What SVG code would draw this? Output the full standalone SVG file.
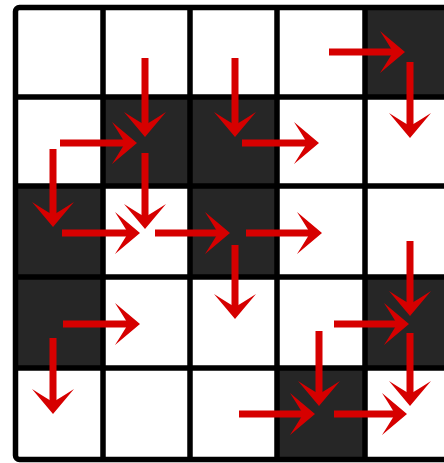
<svg xmlns="http://www.w3.org/2000/svg" xmlns:xlink="http://www.w3.org/1999/xlink" width="444" height="463" viewBox="0 0 444 463">
<style>
.w{fill:#ffffff}
.d{fill:#262626}
.grid{stroke:#000;stroke-width:5.5;fill:none}
.shaft{stroke:#d60000;stroke-width:7;fill:none}
.head{fill:#d60000}
</style>
<defs>
<path id="ah" d="M0,0 L-25,-21 Q-16,-7 -12,0 Q-16,7 -25,21 Z"/>
</defs>
<rect x="0" y="0" width="444" height="463" fill="#fff"/>
<g id="cells">
<g id="r0c0"><rect class="w" x="15" y="7" width="88" height="90"/></g>
<g id="r0c1"><rect class="w" x="103" y="7" width="87" height="90"/></g>
<g id="r0c2"><rect class="w" x="190" y="7" width="87" height="90"/></g>
<g id="r0c3"><rect class="w" x="277" y="7" width="88" height="90"/></g>
<g id="r0c4"><rect class="d" x="365" y="7" width="90" height="90"/></g>
<g id="r1c0"><rect class="w" x="15" y="97" width="88" height="89"/></g>
<g id="r1c1"><rect class="d" x="103" y="97" width="87" height="89"/></g>
<g id="r1c2"><rect class="d" x="190" y="97" width="87" height="89"/></g>
<g id="r1c3"><rect class="w" x="277" y="97" width="88" height="89"/></g>
<g id="r1c4"><rect class="w" x="365" y="97" width="90" height="89"/></g>
<g id="r2c0"><rect class="d" x="15" y="186" width="88" height="91"/></g>
<g id="r2c1"><rect class="w" x="103" y="186" width="87" height="91"/></g>
<g id="r2c2"><rect class="d" x="190" y="186" width="87" height="91"/></g>
<g id="r2c3"><rect class="w" x="277" y="186" width="88" height="91"/></g>
<g id="r2c4"><rect class="w" x="365" y="186" width="90" height="91"/></g>
<g id="r3c0"><rect class="d" x="15" y="277" width="88" height="91"/></g>
<g id="r3c1"><rect class="w" x="103" y="277" width="87" height="91"/></g>
<g id="r3c2"><rect class="w" x="190" y="277" width="87" height="91"/></g>
<g id="r3c3"><rect class="w" x="277" y="277" width="88" height="91"/></g>
<g id="r3c4"><rect class="d" x="365" y="277" width="90" height="91"/></g>
<g id="r4c0"><rect class="w" x="15" y="368" width="88" height="92"/></g>
<g id="r4c1"><rect class="w" x="103" y="368" width="87" height="92"/></g>
<g id="r4c2"><rect class="w" x="190" y="368" width="87" height="92"/></g>
<g id="r4c3"><rect class="d" x="277" y="368" width="88" height="92"/></g>
<g id="r4c4"><rect class="w" x="365" y="368" width="90" height="92"/></g>
</g>
<g id="gridlines" class="grid">
<rect x="15.5" y="7.5" width="460" height="452" rx="4"/>
<path d="M103,7V460 M190,7V460 M277,7V460 M365,7V460 M15,97H450 M15,186H450 M15,277H450 M15,368H450"/>
</g>
<g id="connectors">
<g class="shaft">
<path d="M145,58V126 M235,58V126 M329,52H394 M410,62V127 M60,143H126 M242,143H308 M53,149V216 M145,153V218 M62,233H129 M155,233H219 M246,233H311 M235,245V308 M410,241V305 M63,324H129 M334,324H398 M53,338V403 M319,331V395 M410,333V395 M239,414H304 M334,414H396"/>
</g>
<g class="head">
<use xlink:href="#ah" transform="translate(145,137) rotate(90)"/>
<use xlink:href="#ah" transform="translate(235,137) rotate(90)"/>
<use xlink:href="#ah" transform="translate(405,52)"/>
<use xlink:href="#ah" transform="translate(410,138) rotate(90)"/>
<use xlink:href="#ah" transform="translate(137,143)"/>
<use xlink:href="#ah" transform="translate(319,143)"/>
<use xlink:href="#ah" transform="translate(53,227) rotate(90)"/>
<use xlink:href="#ah" transform="translate(145,229) rotate(90)"/>
<use xlink:href="#ah" transform="translate(140,233)"/>
<use xlink:href="#ah" transform="translate(230,233)"/>
<use xlink:href="#ah" transform="translate(322,233)"/>
<use xlink:href="#ah" transform="translate(235,319) rotate(90)"/>
<use xlink:href="#ah" transform="translate(410,316) rotate(90)"/>
<use xlink:href="#ah" transform="translate(140,324)"/>
<use xlink:href="#ah" transform="translate(409,324)"/>
<use xlink:href="#ah" transform="translate(53,414) rotate(90)"/>
<use xlink:href="#ah" transform="translate(319,406) rotate(90)"/>
<use xlink:href="#ah" transform="translate(410,406) rotate(90)"/>
<use xlink:href="#ah" transform="translate(315,414)"/>
<use xlink:href="#ah" transform="translate(407,414)"/>
</g>
</g>
</svg>
